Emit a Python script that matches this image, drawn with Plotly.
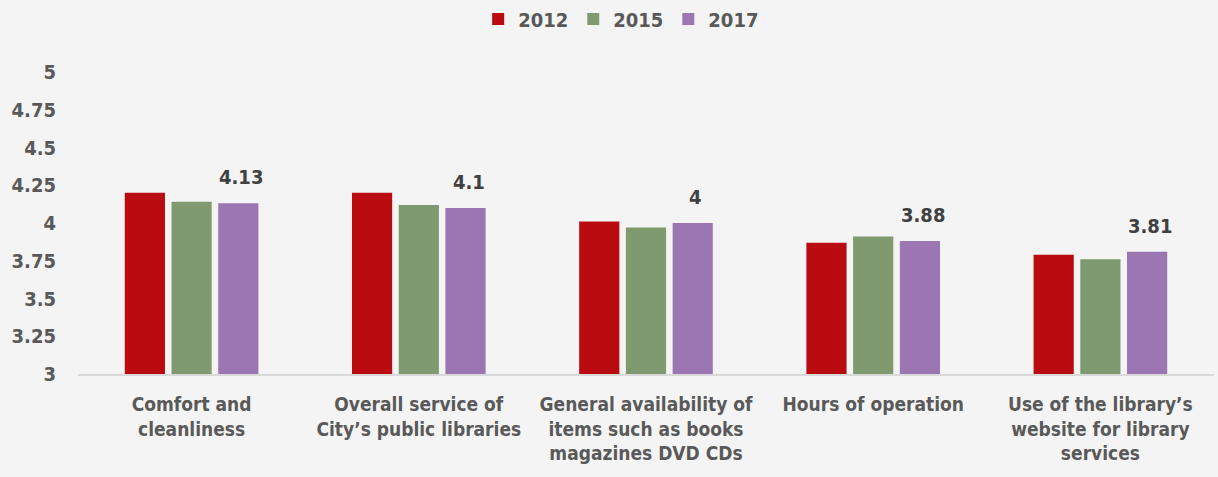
import plotly.graph_objects as go

categories = [
    "Comfort and<br>cleanliness",
    "Overall service of<br>City’s public libraries",
    "General availability of<br>items such as books<br>magazines DVD CDs",
    "Hours of operation",
    "Use of the library’s<br>website for library<br>services",
]
years = ["2012", "2015", "2017"]
values_2012 = [4.20, 4.20, 4.01, 3.87, 3.79]
values_2015 = [4.14, 4.12, 3.97, 3.91, 3.76]
values_2017 = [4.13, 4.10, 4.00, 3.88, 3.81]
colors = ["#BA0C10", "#7F9A6E", "#9B76B2"]
y_ticks = [3, 3.25, 3.5, 3.75, 4, 4.25, 4.5, 4.75, 5]
y_tick_text = ["3", "3.25", "3.5", "3.75", "4", "4.25", "4.5", "4.75", "5"]

FONT = "DejaVu Sans Condensed, Liberation Sans Narrow, sans-serif"

W, H = 1218, 477
ML, MR, MT, MB = 78, 4, 72, 103
BARGAP, BARGROUPGAP = 0.383, 0.14

fig = go.Figure()
for name, vals, col in zip(years, [values_2012, values_2015, values_2017], colors):
    fig.add_trace(go.Bar(
        name=name, x=categories, y=vals,
        marker=dict(color=col, line=dict(width=0)),
    ))

# data labels for 2017 above its bars
plot_w = W - ML - MR
slot = plot_w / len(categories) * (1 - BARGAP) / 3
for cat, v in zip(categories, values_2017):
    fig.add_annotation(
        x=cat, y=v, text=f"{v:g}", showarrow=False,
        xshift=slot + 3, yshift=12, yanchor="bottom",
        font=dict(family=FONT, size=20, color="#404040", weight="bold"),
    )

fig.update_layout(
    width=W, height=H,
    paper_bgcolor="#F4F4F4", plot_bgcolor="#F4F4F4",
    margin=dict(l=ML, r=MR, t=MT, b=MB),
    barmode="group", bargap=BARGAP, bargroupgap=BARGROUPGAP,
    font=dict(family=FONT, size=19, color="#595959", weight="bold"),
    showlegend=True,
    legend=dict(orientation="h", xref="container", yref="container",
                x=0.51, xanchor="center", y=0.96, yanchor="middle",
                font=dict(family=FONT, size=20, color="#595959", weight="bold"),
                itemwidth=30, traceorder="normal", tracegroupgap=0),
    xaxis=dict(showgrid=False, showline=True, linecolor="#D9D9D9", linewidth=2,
               ticks="", ticklabelstandoff=12,
               tickfont=dict(family=FONT, size=19, color="#595959", weight="bold")),
    yaxis=dict(range=[3, 5], tickvals=y_ticks, ticktext=y_tick_text,
               showgrid=False, zeroline=False, showline=False, ticks="",
               ticklabelstandoff=21,
               tickfont=dict(family=FONT, size=20, color="#595959", weight="bold")),
)

fig.write_html("out.html")
